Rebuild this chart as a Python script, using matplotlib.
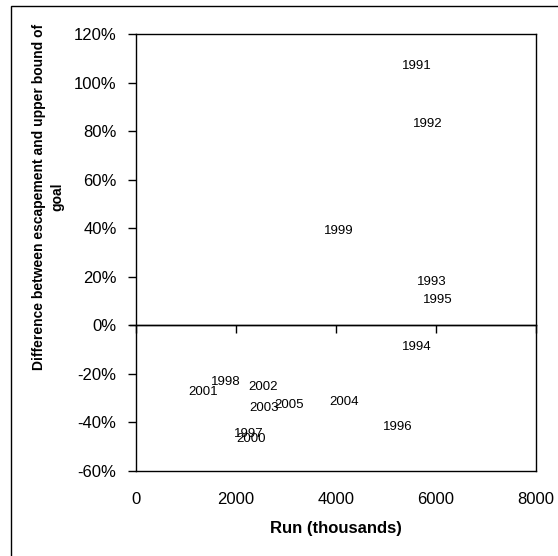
import numpy as np
import matplotlib
matplotlib.use("Agg")
import matplotlib.pyplot as plt
from matplotlib.ticker import PercentFormatter
from matplotlib.patches import Rectangle

plt.rcParams['font.family'] = ['Liberation Sans', 'DejaVu Sans']
plt.rcParams['axes.unicode_minus'] = False

# run (thousands) vs. difference between escapement and upper bound of goal (%)
years = ["1991", "1992", "1993", "1994", "1995", "1996", "1997", "1998",
         "1999", "2000", "2001", "2002", "2003", "2004", "2005"]
run = [5620, 5830, 5910, 5610, 6030, 5240, 2250, 1800,
       4060, 2300, 1350, 2550, 2570, 4160, 3070]
diff = [106.9, 83.0, 17.7, -8.8, 10.3, -42.0, -44.8, -23.2,
        38.7, -46.7, -27.6, -25.5, -33.9, -31.7, -33.0]

W, H = 558, 556
fig = plt.figure(figsize=(W / 100, H / 100), dpi=100)
ax = fig.add_axes([136 / W, 1 - 471 / H, 400 / W, 437 / H])

for yr, x, y in zip(years, run, diff):
    ax.text(x, y, yr, fontsize=9.5, ha='center', va='center')

ax.set_xlim(0, 8000)
ax.set_ylim(-60, 120)
ax.set_xticks(np.arange(0, 8001, 2000))
ax.set_yticks(np.arange(-60, 121, 20))
ax.yaxis.set_major_formatter(PercentFormatter(decimals=0))

for s in ax.spines.values():
    s.set_linewidth(1.0)
    s.set_color('black')

ax.tick_params(axis='y', direction='out', length=6, width=1, pad=8, labelsize=12)
ax.tick_params(axis='x', length=0, pad=15, labelsize=12)

# x axis crossing at 0 with ticks pointing down
zero_ax = ax.secondary_xaxis(60 / 180)
zero_ax.set_xticks(np.arange(0, 8001, 2000))
zero_ax.tick_params(axis='x', direction='out', length=6, width=1, labelbottom=False,
                    labeltop=False, top=False, bottom=True)
zero_ax.spines['bottom'].set_linewidth(1.0)
zero_ax.spines['top'].set_visible(False)
ax.axhline(0, xmin=-6 / 400, xmax=1, color='black', lw=1.0, clip_on=False)

ax.set_xlabel("Run (thousands)", fontsize=12, fontweight='bold', labelpad=10)
fig.text(48 / W, 1 - 197 / H, "Difference between escapement and upper bound of\ngoal",
         rotation=90, ha='center', va='center', multialignment='center',
         fontsize=10, fontweight='bold', linespacing=1.45)

# outer chart border
fig.add_artist(Rectangle((11 / W, -0.1), 1.2, 1.1 - 6 / H, transform=fig.transFigure,
                         fill=False, edgecolor='black', lw=1.0))

fig.savefig("out.png", dpi=100)
